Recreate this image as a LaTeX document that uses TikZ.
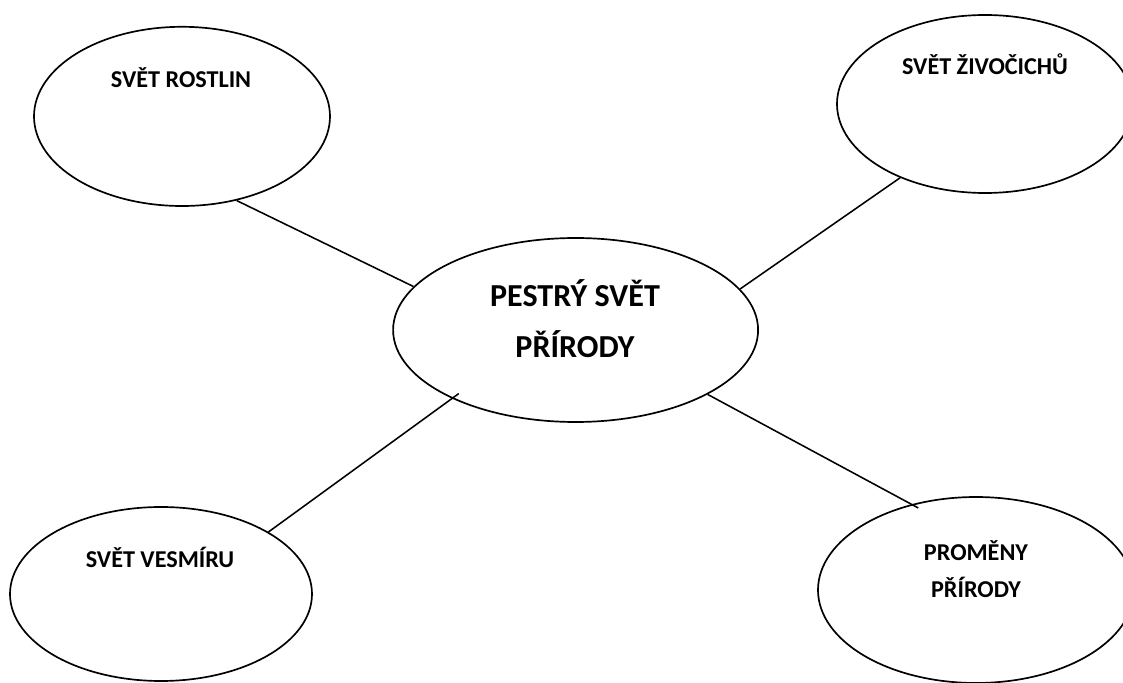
\documentclass[tikz,border=0pt]{standalone}
\usepackage{fontspec}
\setmainfont{Carlito}
\usetikzlibrary{shapes.geometric}

\begin{document}
\begin{tikzpicture}[scale=1]

\useasboundingbox (0,0) rectangle (28.075,17.05);

% ellipses
\begin{scope}[every node/.style={draw,ellipse,line width=1.2pt,inner sep=0pt,fill=none}]
\node[minimum width=7.4cm,minimum height=4.48cm] (rost) at (4.55,14.14) {};
\node[minimum width=7.4cm,minimum height=4.45cm] (ziv) at (24.625,14.45) {};
\node[minimum width=9.125cm,minimum height=4.6cm] (pestry) at (14.39,8.8) {};
\node[minimum width=7.55cm,minimum height=4.35cm] (vesm) at (4.025,2.2) {};
\node[minimum width=7.9cm,minimum height=4.65cm] (prom) at (24.4,2.3) {};
\end{scope}

% labels
\begin{scope}[every node/.style={anchor=base,align=center,inner sep=0pt,font=\bfseries\fontsize{17.2}{26.3}\selectfont}]
\node (rostT) at (4.525,14.85) {SVĚT ROSTLIN};
\node (zivT) at (24.625,15.175) {SVĚT ŽIVOČICHŮ};
\node (vesmT) at (4.0,2.875) {SVĚT VESMÍRU};
\node (promT) at (24.4,2.125) {PROMĚNY\\PŘÍRODY};
\node[font=\bfseries\fontsize{22.8}{36.3}\selectfont] (pestryT) at (14.375,8.1) {PESTRÝ SVĚT\\PŘÍRODY};
\end{scope}

\begin{scope}[line width=1.1pt]
\draw[-] (rost.303) to (pestry.165);
\draw[-] (pestry.14) to (ziv.221);
\draw[-,shorten >=-6pt] (vesm.30) to (pestry.209);
\draw[-,shorten >=-5.5pt] (pestry.334) to (prom.127);
\end{scope}

\end{tikzpicture}
\end{document}
